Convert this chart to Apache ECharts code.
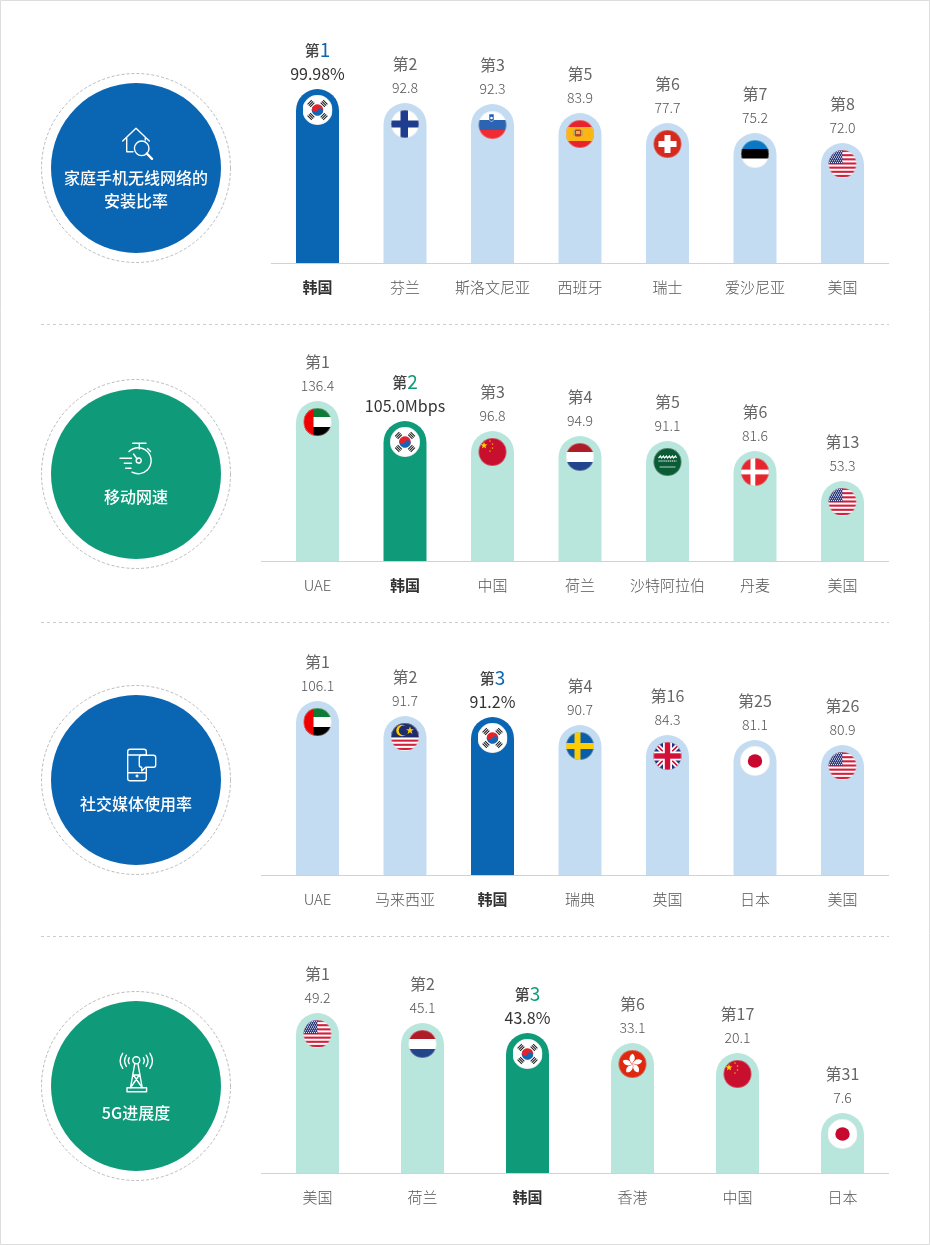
<!DOCTYPE html>
<html><head><meta charset="utf-8">
<style>html,body{margin:0;padding:0;background:#fff}#c{width:930px;height:1245px}</style>
<script src="https://cdn.jsdelivr.net/npm/echarts@6/dist/echarts.min.js"></script>
</head><body><div id="c"></div>
<script>
// ---------- data ----------
const names1 = ['韩国','芬兰','斯洛文尼亚','西班牙','瑞士','爱沙尼亚','美国'];
const ranks1 = [1,2,3,5,6,7,8];
const values1 = [99.98,92.8,92.3,83.9,77.7,75.2,72.0];
const lengths1 = [174,160,159,150,140,130,120];
const flags1 = ['kr','fi','si','es','ch','ee','us'];

const names2 = ['UAE','韩国','中国','荷兰','沙特阿拉伯','丹麦','美国'];
const ranks2 = [1,2,3,4,5,6,13];
const values2 = [136.4,105.0,96.8,94.9,91.1,81.6,53.3];
const lengths2 = [160,140,130,125,120,110,80];
const flags2 = ['ae','kr','cn','nl','sa','dk','us'];

const names3 = ['UAE','马来西亚','韩国','瑞典','英国','日本','美国'];
const ranks3 = [1,2,3,4,16,25,26];
const values3 = [106.1,91.7,91.2,90.7,84.3,81.1,80.9];
const lengths3 = [174,159,158,150,140,135,130];
const flags3 = ['ae','my','kr','se','gb','jp','us'];

const names4 = ['美国','荷兰','韩国','香港','中国','日本'];
const ranks4 = [1,2,3,6,17,31];
const values4 = [49.2,45.1,43.8,33.1,20.1,7.6];
const lengths4 = [160,150,140,130,120,60];
const flags4 = ['us','nl','kr','hk','cn','jp'];

const titles = [['家庭手机无线网络的','安装比率'],['移动网速'],['社交媒体使用率'],['5G进展度']];
const units = ['%','Mbps','%','%'];
const FONT = '"Noto Sans CJK SC","Noto Sans",sans-serif';
const BLUE='#0a65b2', LBLUE='#c3dcf1', GREEN='#0f9b7a', LGREEN='#b8e6dc';

// ---------- flags ----------
function star(cx,cy,r,rot){let p='';for(let i=0;i<10;i++){const a=(rot||0)-Math.PI/2+i*Math.PI/5,q=i%2?r*0.4:r;p+=(i?'L':'M')+(cx+q*Math.cos(a)).toFixed(2)+' '+(cy+q*Math.sin(a)).toFixed(2);}return p+'Z';}
function rect(x,y,w,h,f){return `<rect x="${x}" y="${y}" width="${w}" height="${h}" fill="${f}"/>`;}
function usBody(){let s=rect(0,0,30,30,'#fff');for(let i=0;i<7;i++)s+=rect(0,1+i*4.15,30,2.1,'#d21f3c');s+=rect(0,0,15,15,'#2c3a7e');for(let r=0;r<7;r++)for(let c=0;c<7;c++){s+=`<circle cx="${2+c*2+(r%2)}" cy="${2.2+r*1.9}" r=".55" fill="#fff"/>`;}return s;}
function tri(a){return `<g transform="rotate(${a} 15 15)" fill="#222"><rect x="12" y="3.4" width="6" height="1.1"/><rect x="12" y="5.2" width="6" height="1.1"/><rect x="12" y="7" width="6" height="1.1"/></g>`;}
const flagBodies = {
 kr:()=>rect(0,0,30,30,'#fff')+tri(-45)+tri(45)+tri(135)+tri(225)+`<g transform="rotate(25 15 15)"><path d="M9.2 15a5.8 5.8 0 0 1 11.6 0z" fill="#e5232d"/><path d="M9.2 15a5.8 5.8 0 0 0 11.6 0z" fill="#1467b4"/><circle cx="12.1" cy="15" r="2.9" fill="#e5232d"/><circle cx="17.9" cy="15" r="2.9" fill="#1467b4"/></g>`,
 fi:()=>rect(0,0,30,30,'#fff')+rect(10.5,0,7.5,30,'#1f3d8f')+rect(0,11.5,30,7,'#1f3d8f'),
 si:()=>rect(0,0,30,10.5,'#fff')+rect(0,10,30,10,'#2a64b2')+rect(0,20,30,10,'#ef2b33')+`<path d="M11.5 4h5v5.5l-2.5 2.5-2.5-2.5z" fill="#1f5bb0" stroke="#fff" stroke-width=".6"/><circle cx="14" cy="8" r="1.3" fill="#fff"/>`,
 es:()=>rect(0,0,30,30,'#e9232b')+rect(0,8,30,14,'#fbb613')+`<rect x="10" y="10.5" width="6" height="7" rx="1" fill="#b5432a"/><rect x="8.5" y="11" width="1.2" height="6" fill="#999"/><rect x="16.3" y="11" width="1.2" height="6" fill="#999"/><rect x="11" y="12" width="4" height="3" fill="#e8b14a"/>`,
 ch:()=>rect(0,0,30,30,'#d52b1e')+rect(12,6,6,18,'#fff')+rect(6,12,18,6,'#fff'),
 ee:()=>rect(0,0,30,30,'#fff')+rect(0,0,30,10,'#0a78c2')+rect(0,10,30,9.5,'#000'),
 us:usBody,
 ae:()=>rect(0,0,30,30,'#fff')+rect(0,0,30,10,'#0d7a35')+rect(0,20,30,10,'#000')+rect(0,0,11,30,'#f00000'),
 cn:()=>rect(0,0,30,30,'#c8102e')+`<path d="${star(6.5,8.5,3.6)}" fill="#ffd400"/><path d="${star(12.5,4,1.1)}${star(15,7,1.1)}${star(15,11,1.1)}${star(12.5,14,1.1)}" fill="#ffd400"/>`,
 nl:()=>rect(0,0,30,30,'#fff')+rect(0,0,30,10,'#ae1c28')+rect(0,20,30,10,'#21468b'),
 sa:()=>rect(0,0,30,30,'#0a5c36')+`<g stroke="#fff" fill="none"><path d="M6 11l2-2 1 2 2-2 1 2 2-2 1 2 2-2 1 2 2-2 1 2 2-2 1 2" stroke-width="1.1"/><path d="M6 14l18 0" stroke-width="1" stroke-dasharray="1.3 .6"/><path d="M7 20h16" stroke-width=".7"/></g>`,
 dk:()=>rect(0,0,30,30,'#e5262e')+rect(10.5,0,4.8,30,'#fff')+rect(0,12.6,30,4.8,'#fff'),
 my:()=>{let s=rect(0,0,30,30,'#fff');for(let i=0;i<7;i++)s+=rect(0,1+i*4.15,30,2.1,'#d21f3c');s+=rect(0,0,30,15,'#1d2d6b');s+=`<circle cx="12" cy="8.5" r="5.8" fill="#ffcc00"/><circle cx="13.7" cy="8.5" r="4.9" fill="#1d2d6b"/><path d="${star(20,8.5,4.2)}" fill="#ffcc00"/>`;return s;},
 se:()=>rect(0,0,30,30,'#0a5ea8')+rect(9.5,0,6,30,'#fecc02')+rect(0,12,30,6,'#fecc02'),
 gb:()=>rect(0,0,30,30,'#1c2f7a')+`<path d="M0 0L30 30M30 0L0 30" stroke="#fff" stroke-width="5"/><path d="M0 0L30 30M30 0L0 30" stroke="#d2103a" stroke-width="1.6"/>`+rect(10.5,0,9,30,'#fff')+rect(0,10.5,30,9,'#fff')+rect(12.3,0,5.4,30,'#d2103a')+rect(0,12.3,30,5.4,'#d2103a'),
 jp:()=>rect(0,0,30,30,'#fff')+`<ellipse cx="15" cy="15" rx="7.2" ry="6.8" fill="#c9082f"/>`,
 hk:()=>{let s=rect(0,0,30,30,'#de2910');for(let i=0;i<5;i++)s+=`<path transform="rotate(${i*72} 15 15)" d="M15 15C11 12 11 7 15 4.8C17.8 6.8 18 10.5 15.8 12.5C15 13.5 15 14 15 15z" fill="#fff"/>`;return s;}
};
function flagSymbol(k){
 const r = k==='kr'||k==='jp' ? 15 : 14;
 const svg = `<svg xmlns="http://www.w3.org/2000/svg" width="90" height="90" viewBox="0 0 30 30"><defs><clipPath id="c"><circle cx="15" cy="15" r="${r}"/></clipPath></defs><g clip-path="url(#c)">${flagBodies[k]()}</g><circle cx="15" cy="15" r="${r-.2}" fill="none" stroke="#d8d8d8" stroke-width=".4"/></svg>`;
 return 'image://data:image/svg+xml;charset=utf-8,'+encodeURIComponent(svg);
}

// ---------- panels ----------
const panels = [
 {names:names1,ranks:ranks1,values:values1,lengths:lengths1,flags:flags1,dark:BLUE,light:LBLUE,base:263,left:273.75,width:612.5,lineFrom:271,cy:168},
 {names:names2,ranks:ranks2,values:values2,lengths:lengths2,flags:flags2,dark:GREEN,light:LGREEN,base:561,left:273.75,width:612.5,lineFrom:261,cy:474},
 {names:names3,ranks:ranks3,values:values3,lengths:lengths3,flags:flags3,dark:BLUE,light:LBLUE,base:875,left:273.75,width:612.5,lineFrom:261,cy:780},
 {names:names4,ranks:ranks4,values:values4,lengths:lengths4,flags:flags4,dark:GREEN,light:LGREEN,base:1173,left:265,width:630,lineFrom:261,cy:1086}
];
const fmt = v => Number.isInteger(Math.round(v*1000)/100) ? v.toFixed(1) : String(v);

const grid=[],xAxis=[],yAxis=[],series=[];
panels.forEach((p,i)=>{
 grid.push({left:p.left,width:p.width,top:p.base-200,height:200});
 xAxis.push({type:'category',gridIndex:i,data:p.names,axisLine:{show:false},axisTick:{show:false},
  axisLabel:{interval:0,margin:17,hideOverlap:false,formatter:v=>v==='韩国'?`{k|${v}}`:`{n|${v}}`,
   rich:{k:{fontFamily:FONT,fontSize:15,fontWeight:'bold',color:'#333'},n:{fontFamily:FONT,fontSize:15,fontWeight:300,color:'#555'}}}});
 yAxis.push({type:'value',gridIndex:i,min:0,max:200,show:false,splitLine:{show:false}});
 series.push({type:'bar',xAxisIndex:i,yAxisIndex:i,barWidth:43,silent:true,animation:false,
  data:p.lengths.map((h,j)=>{
   const kr=p.names[j]==='韩国';
   return {value:h,itemStyle:{color:kr?p.dark:p.light,borderRadius:[21.5,21.5,0,0]},
    label:{show:true,position:'top',distance:3,fontFamily:FONT,align:'center',
     formatter:kr?`{kd|第}{kn|${p.ranks[j]}}\n{kv|${fmt(p.values[j])}${units[i]}}`:`{r|第${p.ranks[j]}}\n{v|${fmt(p.values[j])}}`,
     rich:{r:{fontFamily:FONT,fontSize:16,color:'#666',lineHeight:24},
      v:{fontFamily:FONT,fontSize:14,fontWeight:300,color:'#555',lineHeight:24},
      kd:{fontFamily:FONT,fontSize:15,fontWeight:500,color:'#444',lineHeight:24},
      kn:{fontFamily:FONT,fontSize:19,color:p.dark,lineHeight:24},
      kv:{fontFamily:FONT,fontSize:16,color:'#333',lineHeight:24}}}};
  })});
 series.push({type:'scatter',xAxisIndex:i,yAxisIndex:i,silent:true,animation:false,symbolSize:30,symbolOffset:[0,21],clip:false,z:5,
  itemStyle:{opacity:1},
  data:p.lengths.map((h,j)=>({value:[p.names[j],h],symbol:flagSymbol(p.flags[j])}))});
});

// ---------- decoration ----------
const icons=[
 [ {d:'M122.7 141L136 128.3L149.3 141M126.7 138V151.7H133M145.3 137.5V140'},
   {d:'M141.7 141a7.3 7.3 0 1 0 .01 0z',fill:BLUE},
   {d:'M146.8 153.5L152 158.8',lw:2.4} ],
 [ {d:'M132.7 443.3H146M139.3 443.3V449M147.5 448.5L150.5 451.5'},
   {d:'M129 451.5A13 13 0 1 1 132 472.2'},
   {d:'M141.2 460.7a2.5 2.5 0 1 0-.01 0.1z'},
   {d:'M133.5 454L137.2 459M120 458.3H131.5M124.3 463.3H131.5M125.7 468.3H131'} ],
 [ {d:'M130 749.3H144a2.3 2.3 0 0 1 2.3 2.3V778.4a2.3 2.3 0 0 1-2.3 2.3H130a2.3 2.3 0 0 1-2.3-2.3V751.6a2.3 2.3 0 0 1 2.3-2.3zM127.7 755H146.3M127.7 772.7H146.3'},
   {d:'M137 776.7a.6 .6 0 1 0-.01 0z',lw:1.8},
   {d:'M141.5 755.3H153.5a2.2 2.2 0 0 1 2.2 2.2V765.1a2.2 2.2 0 0 1-2.2 2.2H145.7L141.7 770.9V767.3H141.5a2.2 2.2 0 0 1-2.2-2.2V757.5a2.2 2.2 0 0 1 2.2-2.2z',fill:BLUE} ],
 [ {d:'M136.3 1056.8a3.5 3.5 0 1 0 .01 0z'},
   {d:'M134.7 1064L130.5 1087.7M138 1064L142.2 1087.7M133 1075H139.6M131.7 1086L140 1074M141 1086L132.7 1074'},
   {d:'M127 1087.7H146.6V1091.7H127z'},
   {d:'M122.7 1053.3Q117.6 1060.8 122.7 1068.3M126.4 1055.2Q122.8 1060.8 126.4 1066.4M129.2 1057.7Q127.4 1060.7 129.2 1063.7M149.9 1053.3Q155 1060.8 149.9 1068.3M146.2 1055.2Q149.8 1060.8 146.2 1066.4M143.4 1057.7Q145.2 1060.7 143.4 1063.7'} ]
];
series.push({type:'custom',coordinateSystem:'none',silent:true,animation:false,z:20,data:[0,1,2,3],
 renderItem:(params)=>({type:'group',children:icons[params.dataIndex].map(o=>({type:'path',shape:{pathData:o.d},
  style:{stroke:'#fff',fill:o.fill||'none',lineWidth:o.lw||1.4,lineCap:'round',lineJoin:'round'}}))})});

const titleY=[[178,201],[497],[804],[1113]];
const graphic=[{type:'rect',shape:{x:.5,y:.5,width:929,height:1244},style:{fill:null,stroke:'#ddd',lineWidth:1},silent:true}];
[324,622,936].forEach(y=>graphic.push({type:'line',shape:{x1:41,y1:y+.5,x2:889,y2:y+.5},style:{stroke:'#ccc',lineWidth:1,lineDash:[3,3]},silent:true}));
panels.forEach((p,i)=>{
 graphic.push({type:'line',shape:{x1:p.lineFrom,y1:p.base+.5,x2:889,y2:p.base+.5},style:{stroke:'#d2d2d2',lineWidth:1},silent:true,z:10});
 graphic.push({type:'circle',shape:{cx:136,cy:p.cy,r:94.5},style:{fill:null,stroke:'#bbb',lineWidth:1,lineDash:[3,2]},silent:true});
 graphic.push({type:'circle',shape:{cx:136,cy:p.cy,r:85},style:{fill:p.dark},silent:true});
 titles[i].forEach((t,k)=>graphic.push({type:'text',x:136,y:titleY[i][k],z:12,silent:true,
  style:{text:t,fill:'#fff',font:`500 16px ${FONT}`,textAlign:'center',textVerticalAlign:'middle'}}));
});

const chart=echarts.init(document.getElementById('c'),null,{renderer:'canvas',width:930,height:1245});
chart.setOption({animation:false,backgroundColor:'#fff',tooltip:{show:false},grid,xAxis,yAxis,series,graphic});
</script>
</body></html>
